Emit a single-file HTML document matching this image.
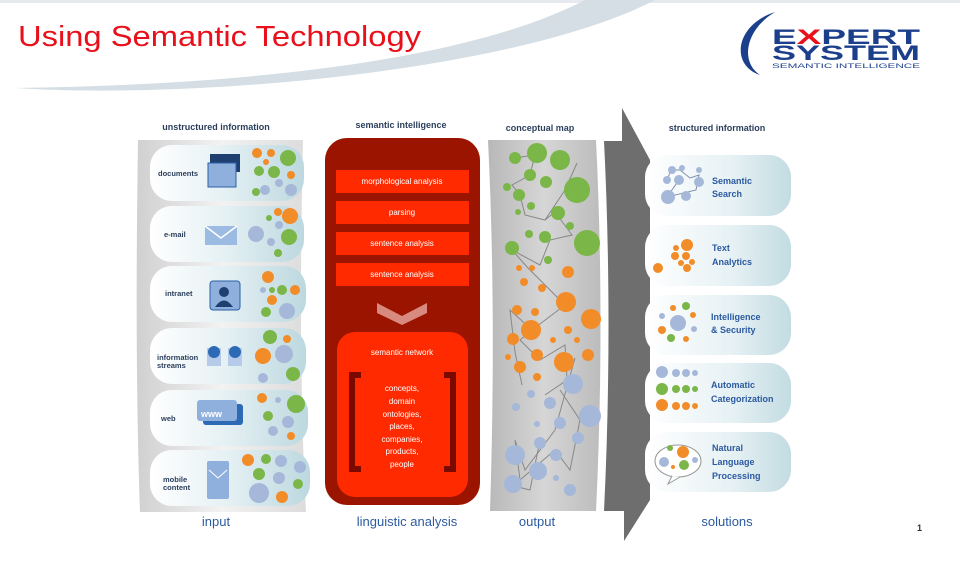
<!DOCTYPE html>
<html><head><meta charset="utf-8"><style>
html,body{margin:0;padding:0;background:#fff;}
svg{display:block;font-family:"Liberation Sans",sans-serif;}
</style></head><body>
<svg width="960" height="563" viewBox="0 0 960 563" xmlns="http://www.w3.org/2000/svg">
<defs>
<linearGradient id="pill" x1="0" y1="0" x2="1" y2="0">
<stop offset="0" stop-color="#ffffff"/><stop offset="0.5" stop-color="#e4f0f3"/><stop offset="1" stop-color="#bcd8df"/>
</linearGradient>
<linearGradient id="pill2" x1="0" y1="0" x2="1" y2="0">
<stop offset="0" stop-color="#ffffff"/><stop offset="0.6" stop-color="#e6f1f4"/><stop offset="1" stop-color="#c2dce2"/>
</linearGradient>
<linearGradient id="col" x1="0" y1="0" x2="1" y2="0">
<stop offset="0" stop-color="#d0d0d0"/><stop offset="0.5" stop-color="#f2f2f2"/><stop offset="1" stop-color="#dcdcdc"/>
</linearGradient>
<linearGradient id="map" x1="0" y1="0" x2="1" y2="0">
<stop offset="0" stop-color="#b8b8b8"/><stop offset="0.5" stop-color="#d6d6d6"/><stop offset="1" stop-color="#bcbcbc"/>
</linearGradient>
</defs>
<rect x="0" y="0" width="960" height="3" fill="#e6eaee"/>
<path d="M15,88 C200,100 520,70 655,0 L585,0 C470,60 250,85 15,88 Z" fill="#d4dee4"/>
<text x="18" y="46" font-size="29" fill="#e8101a" textLength="403" lengthAdjust="spacingAndGlyphs">Using Semantic Technology</text>
<!-- logo -->
<path d="M775,12 C735,25 730,65 760,75 C740,62 745,30 775,12 Z" fill="#1c3f8c"/>
<text x="772" y="44" font-size="21" font-weight="bold" fill="#1c3f8c" textLength="148" lengthAdjust="spacingAndGlyphs">E<tspan fill="#e8101a">X</tspan>PERT</text>
<text x="772" y="60" font-size="21" font-weight="bold" fill="#1c3f8c" textLength="148" lengthAdjust="spacingAndGlyphs">SYSTEM</text>
<text x="772" y="68" font-size="6" fill="#1c3f8c" textLength="148" lengthAdjust="spacingAndGlyphs">SEMANTIC INTELLIGENCE</text>

<!-- headers -->
<g font-size="9" font-weight="bold" fill="#2b3f5c" text-anchor="middle">
<text x="216" y="130">unstructured information</text>
<text x="401" y="128">semantic intelligence</text>
<text x="540" y="131">conceptual map</text>
<text x="717" y="131">structured information</text>
</g>
<g font-size="13" fill="#2c5aa0" text-anchor="middle">
<text x="216" y="526">input</text>
<text x="407" y="526">linguistic analysis</text>
<text x="537" y="526">output</text>
<text x="727" y="526">solutions</text>
</g>
<text x="917" y="531" font-size="9" font-weight="bold" fill="#333">1</text>

<!-- left column -->
<path d="M138,140 L303,140 C300,270 300,400 306,512 L140,512 C136,400 136,270 138,140 Z" fill="url(#col)"/>
<g fill="url(#pill)">
<rect x="150" y="145" width="154" height="56" rx="22"/>
<rect x="150" y="206" width="154" height="56" rx="22"/>
<rect x="150" y="266" width="156" height="56" rx="22"/>
<rect x="150" y="328" width="156" height="56" rx="22"/>
<rect x="150" y="390" width="158" height="56" rx="22"/>
<rect x="150" y="450" width="160" height="56" rx="22"/>
</g>
<g font-size="7.5" font-weight="bold" fill="#2b3f5c">
<text x="158" y="176">documents</text>
<text x="164" y="237">e-mail</text>
<text x="165" y="296">intranet</text>
<text x="157" y="360">information</text><text x="157" y="368">streams</text>
<text x="161" y="421">web</text>
<text x="163" y="482">mobile</text><text x="163" y="490">content</text>
</g>
<!-- icons -->
<rect x="210" y="154" width="30" height="18" fill="#1f3f70"/>
<rect x="208" y="163" width="28" height="24" fill="#8fb0dc" stroke="#2d5fa8"/>
<rect x="205" y="226" width="32" height="19" fill="#9bbbe3"/><path d="M205,226 L221,238 L237,226" stroke="#fff" fill="none" stroke-width="1.5"/>
<rect x="210" y="281" width="30" height="29" rx="3" fill="#8fb0dc" stroke="#2d5fa8"/><circle cx="224" cy="292" r="5" fill="#1f3f70"/><path d="M215,307 Q224,294 233,307Z" fill="#1f3f70"/>
<rect x="207" y="348" width="14" height="18" fill="#b6cbe9"/><circle cx="214" cy="352" r="6" fill="#2d6ab5"/>
<rect x="228" y="348" width="14" height="18" fill="#b6cbe9"/><circle cx="235" cy="352" r="6" fill="#2d6ab5"/>
<rect x="203" y="404" width="40" height="21" rx="3" fill="#2d6ab5"/><rect x="197" y="400" width="40" height="21" rx="3" fill="#8fb0dc"/><text x="201" y="417" font-size="9" fill="#fff" font-weight="bold">www</text>
<rect x="207" y="461" width="22" height="38" rx="2" fill="#8fb0dc"/><path d="M209,470 L218,478 L227,470" stroke="#fff" fill="none"/>
<!-- left dots -->
<g>
<circle cx="257" cy="153" r="5" fill="#f28c28"/><circle cx="271" cy="153" r="4" fill="#f28c28"/><circle cx="288" cy="158" r="8" fill="#7ab648"/><circle cx="266" cy="162" r="3" fill="#f28c28"/><circle cx="259" cy="171" r="5" fill="#7ab648"/><circle cx="274" cy="172" r="6" fill="#7ab648"/><circle cx="291" cy="175" r="4" fill="#f28c28"/><circle cx="279" cy="183" r="4" fill="#a5b8d9"/><circle cx="265" cy="190" r="5" fill="#a5b8d9"/><circle cx="291" cy="190" r="6" fill="#a5b8d9"/><circle cx="256" cy="192" r="4" fill="#7ab648"/>
<circle cx="278" cy="212" r="4" fill="#f28c28"/><circle cx="290" cy="216" r="8" fill="#f28c28"/><circle cx="269" cy="218" r="3" fill="#7ab648"/><circle cx="279" cy="225" r="4" fill="#a5b8d9"/><circle cx="256" cy="234" r="8" fill="#a5b8d9"/><circle cx="289" cy="237" r="8" fill="#7ab648"/><circle cx="271" cy="242" r="4" fill="#a5b8d9"/><circle cx="278" cy="253" r="4" fill="#7ab648"/>
<circle cx="268" cy="277" r="6" fill="#f28c28"/><circle cx="263" cy="290" r="3" fill="#a5b8d9"/><circle cx="272" cy="290" r="3" fill="#7ab648"/><circle cx="282" cy="290" r="5" fill="#7ab648"/><circle cx="295" cy="290" r="5" fill="#f28c28"/><circle cx="272" cy="300" r="5" fill="#f28c28"/><circle cx="266" cy="312" r="5" fill="#7ab648"/><circle cx="287" cy="311" r="8" fill="#a5b8d9"/>
<circle cx="270" cy="337" r="7" fill="#7ab648"/><circle cx="287" cy="339" r="4" fill="#f28c28"/><circle cx="263" cy="356" r="8" fill="#f28c28"/><circle cx="284" cy="354" r="9" fill="#a5b8d9"/><circle cx="263" cy="378" r="5" fill="#a5b8d9"/><circle cx="293" cy="374" r="7" fill="#7ab648"/>
<circle cx="262" cy="398" r="5" fill="#f28c28"/><circle cx="278" cy="400" r="3" fill="#a5b8d9"/><circle cx="296" cy="404" r="9" fill="#7ab648"/><circle cx="268" cy="416" r="5" fill="#7ab648"/><circle cx="288" cy="422" r="6" fill="#a5b8d9"/><circle cx="273" cy="431" r="5" fill="#a5b8d9"/><circle cx="291" cy="436" r="4" fill="#f28c28"/>
<circle cx="248" cy="460" r="6" fill="#f28c28"/><circle cx="266" cy="459" r="5" fill="#7ab648"/><circle cx="281" cy="461" r="6" fill="#a5b8d9"/><circle cx="300" cy="467" r="6" fill="#a5b8d9"/><circle cx="259" cy="474" r="6" fill="#7ab648"/><circle cx="279" cy="478" r="6" fill="#a5b8d9"/><circle cx="259" cy="493" r="10" fill="#a5b8d9"/><circle cx="282" cy="497" r="6" fill="#f28c28"/><circle cx="298" cy="484" r="5" fill="#7ab648"/>
</g>

<!-- red column -->
<rect x="325" y="138" width="155" height="367" rx="22" fill="#9a1400"/>
<g fill="#ff2a00">
<rect x="336" y="170" width="133" height="23"/><rect x="336" y="201" width="133" height="23"/><rect x="336" y="232" width="133" height="23"/><rect x="336" y="263" width="133" height="23"/>
</g>
<g font-size="8" fill="#fff" text-anchor="middle">
<text x="402" y="184">morphological analysis</text><text x="402" y="215">parsing</text><text x="402" y="246">sentence analysis</text><text x="402" y="277">sentence analysis</text>
</g>
<path d="M377,303 L402,316 L427,303 L427,313 L402,325 L377,313Z" fill="#d88a80"/>
<rect x="337" y="332" width="131" height="165" rx="18" fill="#ff2a00"/>
<text x="402" y="355" font-size="8" fill="#fff" text-anchor="middle">semantic network</text>
<path d="M349,372 L361,372 L361,378 L355,378 L355,466 L361,466 L361,472 L349,472Z" fill="#7a0a00"/>
<path d="M456,372 L444,372 L444,378 L450,378 L450,466 L444,466 L444,472 L456,472Z" fill="#7a0a00"/>
<g font-size="8" fill="#fff" text-anchor="middle">
<text x="402" y="391">concepts,</text><text x="402" y="404">domain</text><text x="402" y="417">ontologies,</text><text x="402" y="429">places,</text><text x="402" y="442">companies,</text><text x="402" y="454">products,</text><text x="402" y="467">people</text>
</g>

<!-- conceptual map -->
<path d="M488,140 L596,140 C602,260 602,390 596,511 L490,511 C494,390 494,260 488,140 Z" fill="url(#map)"/>
<g stroke="#888" stroke-width="1" fill="none">
<path d="M515,158 L535,155 L530,175 L512,185 L520,195 L525,215 L545,220 L565,190 L577,163"/>
<path d="M545,220 L555,212 L572,235 L550,240 L540,265 L512,250 L528,268"/>
<path d="M528,268 L565,305 L532,330 L520,340 L540,360 L565,345 L567,380 L545,395"/>
<path d="M532,330 L510,310 L515,352 L522,385"/>
<path d="M575,358 L555,430 L525,470 L515,440 L520,480 L555,450 L570,470 L580,420 L560,390"/>
<path d="M540,440 L530,490 L510,485"/>
</g>
<g fill="#7ab648">
<circle cx="515" cy="158" r="6"/><circle cx="537" cy="153" r="10"/><circle cx="560" cy="160" r="10"/><circle cx="530" cy="175" r="6"/><circle cx="546" cy="182" r="6"/><circle cx="577" cy="190" r="13"/><circle cx="507" cy="187" r="4"/><circle cx="519" cy="195" r="6"/><circle cx="531" cy="206" r="4"/><circle cx="518" cy="212" r="3"/><circle cx="558" cy="213" r="7"/><circle cx="570" cy="226" r="4"/><circle cx="529" cy="234" r="4"/><circle cx="545" cy="237" r="6"/><circle cx="587" cy="243" r="13"/><circle cx="512" cy="248" r="7"/><circle cx="548" cy="260" r="4"/>
</g>
<g fill="#f28c28">
<circle cx="519" cy="268" r="3"/><circle cx="532" cy="268" r="3"/><circle cx="524" cy="282" r="4"/><circle cx="542" cy="288" r="4"/><circle cx="568" cy="272" r="6"/><circle cx="566" cy="302" r="10"/><circle cx="517" cy="310" r="5"/><circle cx="535" cy="312" r="4"/><circle cx="591" cy="319" r="10"/><circle cx="531" cy="330" r="10"/><circle cx="568" cy="330" r="4"/><circle cx="553" cy="340" r="3"/><circle cx="577" cy="340" r="3"/><circle cx="513" cy="339" r="6"/><circle cx="537" cy="355" r="6"/><circle cx="588" cy="355" r="6"/><circle cx="508" cy="357" r="3"/><circle cx="564" cy="362" r="10"/><circle cx="520" cy="367" r="6"/><circle cx="537" cy="377" r="4"/>
</g>
<g fill="#a5b8d9">
<circle cx="573" cy="384" r="10"/><circle cx="531" cy="394" r="4"/><circle cx="550" cy="403" r="6"/><circle cx="516" cy="407" r="4"/><circle cx="590" cy="416" r="11"/><circle cx="560" cy="423" r="6"/><circle cx="537" cy="424" r="3"/><circle cx="578" cy="438" r="6"/><circle cx="540" cy="443" r="6"/><circle cx="515" cy="455" r="10"/><circle cx="556" cy="455" r="6"/><circle cx="538" cy="471" r="9"/><circle cx="556" cy="478" r="3"/><circle cx="513" cy="484" r="9"/><circle cx="570" cy="490" r="6"/>
</g>

<!-- big arrow -->
<path d="M604,141 L622,141 L622,108 L650,160 L650,500 L624,541 L624,511 L604,511 C610,390 610,260 604,141 Z" fill="#6e6e6e"/>

<!-- right pills -->
<g fill="url(#pill2)">
<rect x="645" y="155" width="146" height="61" rx="22"/>
<rect x="645" y="225" width="146" height="61" rx="22"/>
<rect x="645" y="295" width="146" height="60" rx="22"/>
<rect x="645" y="363" width="146" height="60" rx="22"/>
<rect x="645" y="432" width="146" height="60" rx="22"/>
</g>
<g font-size="9" font-weight="bold" fill="#2c5aa0">
<text x="712" y="184">Semantic</text><text x="712" y="197">Search</text>
<text x="712" y="251">Text</text><text x="712" y="265">Analytics</text>
<text x="711" y="320">Intelligence</text><text x="711" y="333">&amp; Security</text>
<text x="711" y="388">Automatic</text><text x="711" y="402">Categorization</text>
<text x="712" y="451">Natural</text><text x="712" y="465">Language</text><text x="712" y="479">Processing</text>
</g>
<!-- right icons -->
<g stroke="#7f8fb0" stroke-width="1" fill="none"><path d="M667,180 L671,170 L680,170 L690,178 L699,175 L696,190 L667,197 L679,180"/></g>
<g fill="#a5b8d9"><circle cx="672" cy="170" r="4"/><circle cx="682" cy="168" r="3"/><circle cx="699" cy="170" r="3"/><circle cx="667" cy="180" r="4"/><circle cx="679" cy="180" r="5"/><circle cx="699" cy="182" r="5"/><circle cx="668" cy="197" r="7"/><circle cx="686" cy="196" r="5"/></g>
<g fill="#f28c28"><circle cx="687" cy="245" r="6"/><circle cx="676" cy="248" r="3"/><circle cx="675" cy="256" r="4"/><circle cx="686" cy="256" r="4"/><circle cx="681" cy="263" r="3"/><circle cx="692" cy="262" r="3"/><circle cx="687" cy="268" r="4"/><circle cx="658" cy="268" r="5"/></g>
<g><circle cx="678" cy="323" r="8" fill="#a5b8d9"/><circle cx="673" cy="308" r="3" fill="#f28c28"/><circle cx="686" cy="306" r="4" fill="#7ab648"/><circle cx="662" cy="316" r="3" fill="#a5b8d9"/><circle cx="693" cy="315" r="3" fill="#f28c28"/><circle cx="662" cy="330" r="4" fill="#f28c28"/><circle cx="694" cy="329" r="3" fill="#a5b8d9"/><circle cx="671" cy="338" r="4" fill="#7ab648"/><circle cx="686" cy="339" r="3" fill="#f28c28"/></g>
<g><circle cx="662" cy="372" r="6" fill="#a5b8d9"/><circle cx="676" cy="373" r="4" fill="#a5b8d9"/><circle cx="686" cy="373" r="4" fill="#a5b8d9"/><circle cx="695" cy="373" r="3" fill="#a5b8d9"/>
<circle cx="662" cy="389" r="6" fill="#7ab648"/><circle cx="676" cy="389" r="4" fill="#7ab648"/><circle cx="686" cy="389" r="4" fill="#7ab648"/><circle cx="695" cy="389" r="3" fill="#7ab648"/>
<circle cx="662" cy="405" r="6" fill="#f28c28"/><circle cx="676" cy="406" r="4" fill="#f28c28"/><circle cx="686" cy="406" r="4" fill="#f28c28"/><circle cx="695" cy="406" r="3" fill="#f28c28"/></g>
<ellipse cx="678" cy="461" rx="23" ry="16" fill="#fff" stroke="#999"/><path d="M672,476 L668,484 L680,477" fill="#fff" stroke="#999"/>
<circle cx="670" cy="448" r="3" fill="#7ab648"/><circle cx="683" cy="452" r="6" fill="#f28c28"/><circle cx="664" cy="462" r="5" fill="#a5b8d9"/><circle cx="684" cy="465" r="5" fill="#7ab648"/><circle cx="695" cy="460" r="3" fill="#a5b8d9"/><circle cx="673" cy="467" r="2" fill="#f28c28"/>
</svg>
</body></html>
